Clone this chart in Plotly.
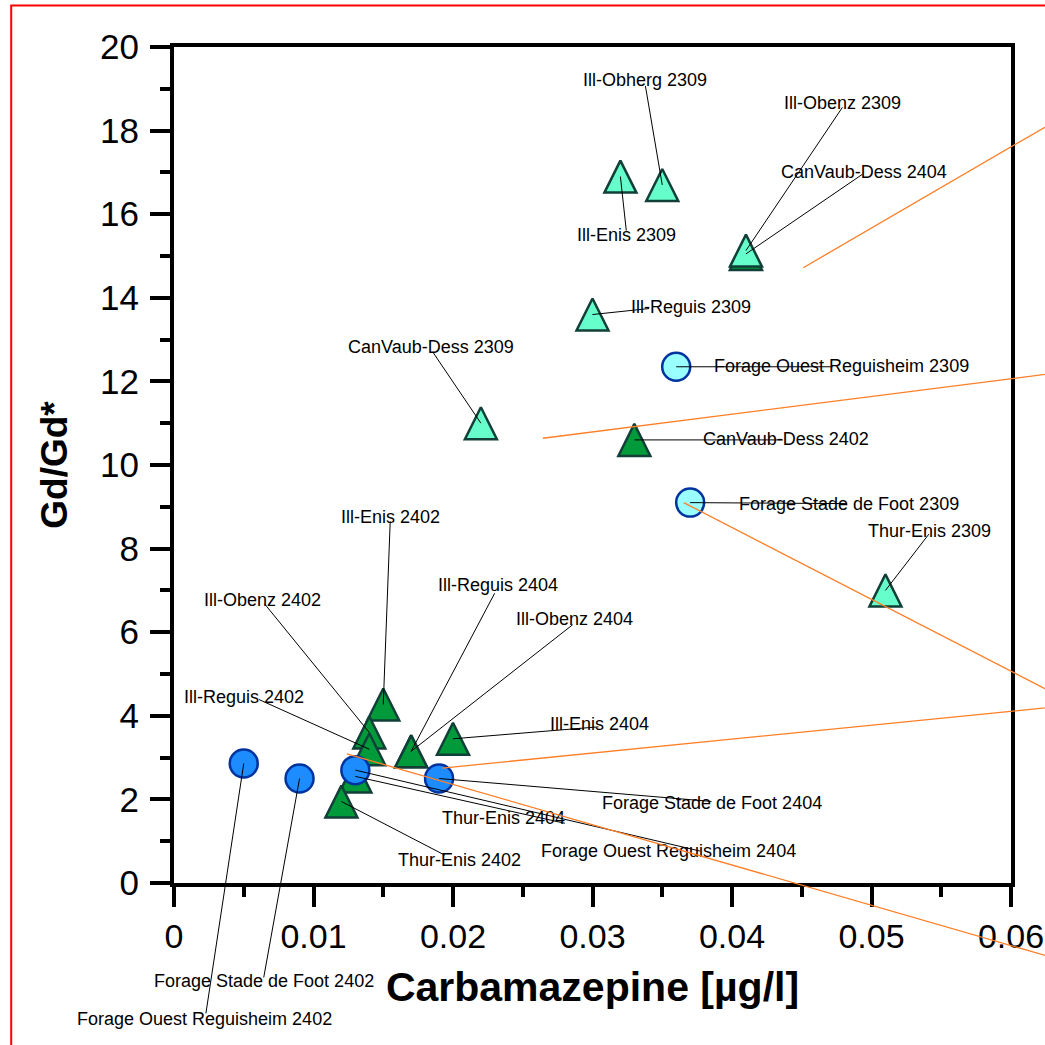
import plotly.graph_objects as go

# ---- data: Gd anomaly (Gd/Gd*) against carbamazepine concentration ----
# surface waters, September 2023 campaign
tri_2309_names = ["CanVaub-Dess 2309", "Ill-Reguis 2309", "Ill-Enis 2309",
                  "Ill-Obherg 2309", "Ill-Obenz 2309", "Thur-Enis 2309"]
tri_2309_x = [0.022, 0.030, 0.032, 0.035, 0.041, 0.051]
tri_2309_y = [11.0, 13.6, 16.9, 16.7, 15.13, 7.0]

# surface waters, February / April 2024 campaigns
tri_2402_names = ["CanVaub-Dess 2404", "CanVaub-Dess 2402", "Ill-Enis 2402",
                  "Ill-Obenz 2402", "Ill-Enis 2404", "Ill-Reguis 2402",
                  "Ill-Reguis 2404", "Ill-Obenz 2404", "Thur-Enis 2404",
                  "Thur-Enis 2402"]
tri_2402_x = [0.041, 0.033, 0.015, 0.014, 0.020, 0.014, 0.017, 0.017, 0.013, 0.012]
tri_2402_y = [15.05, 10.6, 4.27, 3.6, 3.45, 3.2, 3.15, 3.15, 2.55, 1.95]

# groundwater wells, February / April 2024
circ_2402_names = ["Forage Ouest Reguisheim 2402", "Forage Stade de Foot 2402",
                   "Forage Ouest Reguisheim 2404", "Forage Stade de Foot 2404"]
circ_2402_x = [0.005, 0.009, 0.013, 0.019]
circ_2402_y = [2.86, 2.5, 2.7, 2.5]

# groundwater wells, September 2023
circ_2309_names = ["Forage Ouest Reguisheim 2309", "Forage Stade de Foot 2309"]
circ_2309_x = [0.036, 0.037]
circ_2309_y = [12.35, 9.1]

# orange guide lines: start point and far end (data units)
guide_x0 = [0.04511, 0.02644, 0.03654, 0.01924, 0.01239]
guide_y0 = [14.72, 10.64, 9.10, 2.75, 3.09]
guide_x1 = [0.07, 0.07, 0.07, 0.07, 0.07]
guide_y1 = [19.55, 12.49, 3.35, 4.44, -2.46]

x_ticks = [0, 0.01, 0.02, 0.03, 0.04, 0.05, 0.06]
x_tick_text = ["0", "0.01", "0.02", "0.03", "0.04", "0.05", "0.06"]
y_ticks = [0, 2, 4, 6, 8, 10, 12, 14, 16, 18, 20]

# label placement, screen pixels relative to the point:
# (text dx, text dy, leader end dx, leader end dy), dy positive downwards
label_place = {
    "Ill-Obherg 2309": (-17, -105, -17, -100),
    "Ill-Enis 2309": (6, 58, 6, 55),
    "Ill-Obenz 2309": (97, -148, 97, -144),
    "CanVaub-Dess 2404": (118, -82, 117, -80),
    "Ill-Reguis 2309": (98, -8, 57, -6),
    "CanVaub-Dess 2309": (-50, -76, -48, -71),
    "Forage Ouest Reguisheim 2309": (165, -1, 157, 0),
    "CanVaub-Dess 2402": (152, -1, 149, 0),
    "Forage Stade de Foot 2309": (159, 1, 157, 1),
    "Thur-Enis 2309": (44, -59, 44, -57),
    "Ill-Enis 2402": (7, -188, 7, -184),
    "Ill-Obenz 2402": (-107, -133, -105, -129),
    "Ill-Reguis 2404": (87, -166, 84, -159),
    "Ill-Obenz 2404": (163, -132, 162, -127),
    "Ill-Reguis 2402": (-125, -52, -111, -50),
    "Ill-Enis 2404": (146, -15, 146, -12),
    "Forage Stade de Foot 2404": (273, 24, 273, 23),
    "Thur-Enis 2404": (148, 42, 210, 47),
    "Forage Ouest Reguisheim 2404": (313, 81, 345, 81),
    "Thur-Enis 2402": (118, 59, 104, 54),
    "Forage Stade de Foot 2402": (-36, 202, -36, 200),
    "Forage Ouest Reguisheim 2402": (-39, 256, -38, 251),
}

FONT = "Liberation Sans, Arial, sans-serif"
TRI_SIZE = 32
TRI_EDGE = "#123F37"
CIRC_EDGE = "#0033A0"

fig = go.Figure()


def tri_marker(fill):
    return dict(symbol="arrow-down", angle=180, standoff=TRI_SIZE / 2,
                size=TRI_SIZE, color=fill, line=dict(color=TRI_EDGE, width=2.5))


def circ_marker(fill):
    return dict(symbol="circle", size=28, color=fill,
                line=dict(color=CIRC_EDGE, width=2.5))


fig.add_trace(go.Scatter(x=tri_2402_x, y=tri_2402_y, mode="markers",
                         marker=tri_marker("#009A3A"), cliponaxis=False,
                         text=tri_2402_names, hoverinfo="text+x+y"))
fig.add_trace(go.Scatter(x=tri_2309_x, y=tri_2309_y, mode="markers",
                         marker=tri_marker("#66FFCC"), cliponaxis=False,
                         text=tri_2309_names, hoverinfo="text+x+y"))
fig.add_trace(go.Scatter(x=circ_2402_x, y=circ_2402_y, mode="markers",
                         marker=circ_marker("#1C8CFF"), cliponaxis=False,
                         text=circ_2402_names, hoverinfo="text+x+y"))
fig.add_trace(go.Scatter(x=circ_2309_x, y=circ_2309_y, mode="markers",
                         marker=circ_marker("#99FFFF"), cliponaxis=False,
                         text=circ_2309_names, hoverinfo="text+x+y"))

points = {}
for names, xs, ys in [(tri_2309_names, tri_2309_x, tri_2309_y),
                      (tri_2402_names, tri_2402_x, tri_2402_y),
                      (circ_2402_names, circ_2402_x, circ_2402_y),
                      (circ_2309_names, circ_2309_x, circ_2309_y)]:
    for n, xv, yv in zip(names, xs, ys):
        points[n] = (xv, yv)

annotations = []
for name, (tdx, tdy, ldx, ldy) in label_place.items():
    px, py = points[name]
    # leader line from the point to the label
    annotations.append(dict(x=px, y=py, xref="x", yref="y", text=" ",
                            font=dict(size=1), borderpad=0,
                            showarrow=True, arrowhead=0, arrowwidth=1,
                            arrowcolor="black", standoff=0,
                            ax=ldx, ay=ldy))
    annotations.append(dict(x=px, y=py, xref="x", yref="y", text=name,
                            showarrow=False, xanchor="center", yanchor="middle",
                            xshift=tdx, yshift=-tdy,
                            font=dict(family=FONT, size=18, color="black")))

for x0, y0, x1, y1 in zip(guide_x0, guide_y0, guide_x1, guide_y1):
    annotations.append(dict(x=x0, y=y0, xref="x", yref="y", text=" ",
                            font=dict(size=1), borderpad=0,
                            showarrow=True, arrowhead=0, arrowwidth=1.3,
                            arrowcolor="#FF7F27", standoff=0,
                            ax=x1, ay=y1, axref="x", ayref="y"))

axis_common = dict(
    showline=True, linewidth=4, linecolor="black", mirror=True,
    ticks="outside", ticklen=20, tickwidth=4, tickcolor="black",
    showgrid=False, zeroline=False, automargin=False,
)

fig.update_layout(
    width=1045, height=1045,
    margin=dict(l=174, r=34, t=47, b=162),
    paper_bgcolor="white", plot_bgcolor="white",
    showlegend=False,
    annotations=annotations,
    shapes=[dict(type="rect", xref="paper", yref="paper",
                 x0=-0.1945, x1=1.2, y0=-0.4, y1=1.0495,
                 line=dict(color="#FF0000", width=2), layer="below")],
    xaxis=dict(range=[0, 0.06], tickvals=x_ticks, ticktext=x_tick_text,
               tickfont=dict(family=FONT, size=34, color="black"),
               minor=dict(dtick=0.005, ticks="outside", ticklen=10,
                          tickwidth=4, tickcolor="black", showgrid=False),
               title=dict(text="<b>Carbamazepine [µg/l]</b>", standoff=20,
                          font=dict(family=FONT, size=41, color="black")),
               **axis_common),
    yaxis=dict(range=[0, 20], tickvals=y_ticks, ticklabelstandoff=4,
               tickfont=dict(family=FONT, size=35, color="black"),
               minor=dict(dtick=1, ticks="outside", ticklen=10,
                          tickwidth=4, tickcolor="black", showgrid=False),
               title=dict(text="<b>Gd/Gd*</b>", standoff=22,
                          font=dict(family=FONT, size=37, color="black")),
               **axis_common),
)

fig.write_html("out.html")
